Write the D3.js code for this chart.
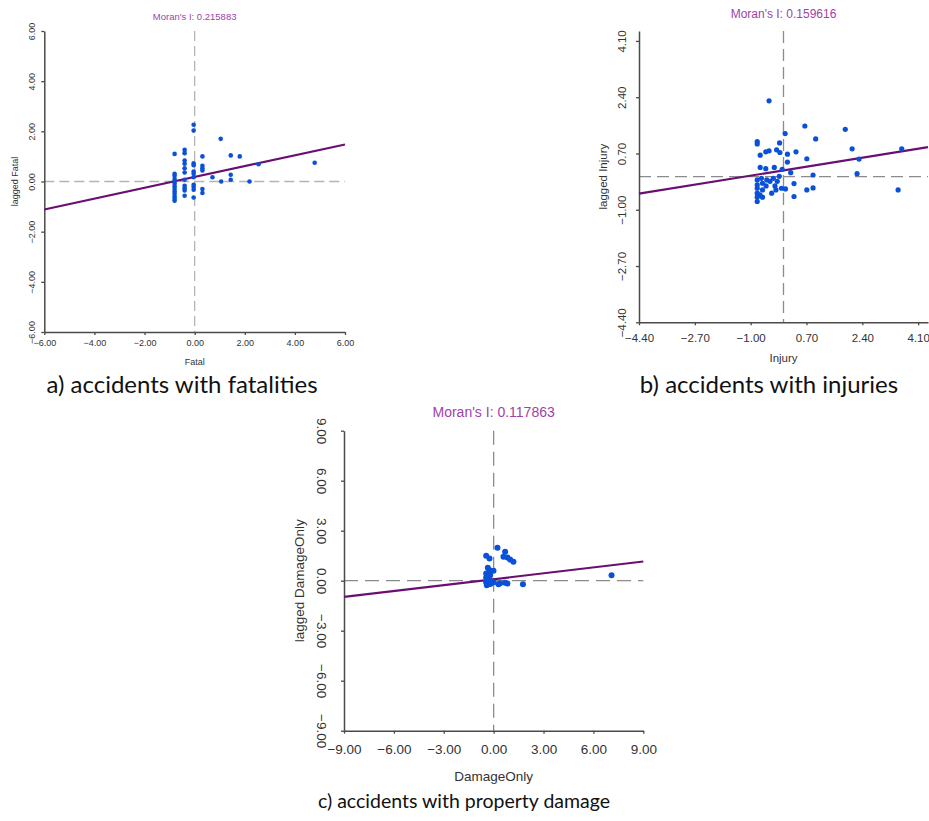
<!DOCTYPE html>
<html>
<head>
<meta charset="utf-8">
<script src="https://cdn.jsdelivr.net/npm/d3@7"></script>
<style>
  body { margin: 0; background: #fff; }
  svg { display: block; font-family: "Liberation Sans", Arial, sans-serif; }
  .caption { font-family: Lato, "Open Sans", sans-serif; fill: #111; }
</style>
</head>
<body>
<svg id="chart" width="929" height="821"></svg>
<script>
'use strict';

// a) fatalities: standardized value vs spatially lagged value
const fatalX = [
  -0.80, -0.80, -0.80, -0.80, -0.80, -0.80, -0.80, -0.80, -0.80, -0.80, -0.80, -0.80, -0.80,
  -0.40, -0.40, -0.40, -0.40, -0.40, -0.40, -0.40, -0.40, -0.40, -0.40, -0.40,
  -0.04, -0.04, -0.04, -0.04, -0.04, -0.04, -0.04, -0.04, -0.04, -0.04, -0.04,
  0.31, 0.31, 0.31, 0.31, 0.31, 0.31,
  0.71, 1.04, 1.06, 1.44, 1.44, 1.44, 1.80, 2.19, 2.55, 4.79
];
const fatalY = [
  1.10, 0.31, 0.23, 0.10, 0.00, -0.09, -0.20, -0.30, -0.40, -0.49, -0.60, -0.69, -0.77,
  1.26, 1.13, 0.84, 0.71, 0.53, 0.36, 0.07, -0.17, -0.27, -0.36, -0.57,
  2.26, 2.03, 0.73, 0.65, 0.40, 0.31, 0.17, -0.13, -0.22, -0.33, -0.64,
  1.00, 0.63, 0.53, 0.44, -0.30, -0.46,
  0.17, 1.70, 0.00, 1.04, 0.27, 0.07, 1.00, 0.00, 0.69, 0.75
];

// b) injuries
const injuryX = [
  -0.44, 0.65, 1.88, 0.05, 0.98, -0.80, -0.80, -0.12, 2.09, -0.21, -0.44, -0.54, -0.11,
  0.38, 0.12, -0.71, 3.60, 0.71, 0.12, 2.30, -0.71, -0.54, -0.28, -0.04, 0.22, 0.90,
  2.24, 3.49, 0.06, 0.32, 0.32, 0.71, 0.90,
  -0.80, -0.80, -0.80, -0.80, -0.80, -0.80, -0.67, -0.64, -0.64, -0.64, -0.51, -0.53,
  -0.41, -0.36, -0.31, -0.26, -0.23, -0.19, -0.13, -0.06, -0.72
];
const injuryY = [
  2.29, 1.53, 1.43, 1.30, 1.14, 1.06, 0.99, 1.02, 0.84, 0.81, 0.78, 0.75, 0.73,
  0.75, 0.68, 0.65, 0.84, 0.54, 0.44, 0.53, 0.28, 0.24, 0.28, 0.22, 0.12, 0.05,
  0.09, -0.40, -0.37, -0.21, -0.60, -0.40, -0.34,
  -0.10, -0.25, -0.35, -0.50, -0.62, -0.75, -0.05, -0.20, -0.40, -0.62, -0.10, -0.28,
  -0.14, -0.50, -0.05, -0.28, -0.40, -0.14, 0.01, -0.35, -0.55
];

// c) property damage only
const damageX = [
  0.23, -0.45, -0.25, 0.69, 0.59, 0.83, 0.99, 1.19, -0.35, -0.25, -0.01, -0.45, -0.21,
  -0.45, -0.25, -0.45, -0.41, -0.20, 0.00, 0.29, 0.39, 0.69, 0.83, 1.76, 7.09
];
const damageY = [
  1.97, 1.49, 1.33, 1.73, 1.43, 1.39, 1.27, 1.13, 0.77, 0.63, 0.59, 0.43, 0.33,
  0.19, 0.07, -0.10, -0.27, -0.20, -0.10, -0.21, -0.15, -0.13, -0.17, -0.21, 0.33
];

const moranI = [0.215883, 0.159616, 0.117863];
const intercepts = [0.18, 0.19, 0.09];
const varNames = ['Fatal', 'Injury', 'DamageOnly'];
const axisMax = [6, 4.4, 9];
const tickValues = [
  [-6, -4, -2, 0, 2, 4, 6],
  [-4.4, -2.7, -1.0, 0.7, 2.4, 4.1],
  [-9, -6, -3, 0, 3, 6, 9]
];
const captions = [
  'a) accidents with fatalities',
  'b) accidents with injuries',
  'c) accidents with property damage'
];

const svg = d3.select('#chart');

const panels = [
  { x: fatalX, y: fatalY, left: 44.3, right: 345, top: 31, bottom: 332,
    font: 9, r: 2.3, dash: '10,5', dashColor: '#b4b4b4',
    titleY: 20, yTickOff: 12, xTickPad: 5, xLabelY: 365, yLabelX: 15, ySign: -1,
    caption: [182, 393], capSize: 24 },
  { x: injuryX, y: injuryY, left: 639, right: 928, top: 31, bottom: 322.3,
    font: 11.5, r: 2.6, dash: '12,6', dashColor: '#8c8c8c',
    titleY: 18, yTickOff: 17, xTickPad: 9, xLabelY: 362, yLabelX: 603, ySign: -1,
    caption: [769, 393], capSize: 24 },
  { x: damageX, y: damageY, left: 344, right: 643.3, top: 430.7, bottom: 730.7,
    font: 13.5, r: 3, dash: '14,7', dashColor: '#8c8c8c',
    titleY: 416.5, yTickOff: 22, xTickPad: 11, xLabelY: 781, yLabelX: 299, ySign: 1,
    caption: [464, 808], capSize: 19.5 }
];

panels.forEach((p, i) => {
  const m = axisMax[i];
  const x = d3.scaleLinear().domain([-m, m]).range([p.left, p.right]);
  const y = d3.scaleLinear().domain([-m, m]).range([p.bottom, p.top]);
  const $g = svg.append('g').attr('class', 'panel-' + i);
  const fmt = d3.format('.2f');

  // reference lines through the origin
  $g.append('line')
    .attr('x1', x(0)).attr('x2', x(0))
    .attr('y1', y(m)).attr('y2', y(-m))
    .attr('stroke', p.dashColor).attr('stroke-width', 1.3)
    .attr('stroke-dasharray', p.dash);
  $g.append('line')
    .attr('x1', x(-m)).attr('x2', x(m))
    .attr('y1', y(0)).attr('y2', y(0))
    .attr('stroke', p.dashColor).attr('stroke-width', 1.3)
    .attr('stroke-dasharray', p.dash);

  // axes
  const $xa = $g.append('g')
    .attr('transform', 'translate(0,' + p.bottom + ')')
    .call(d3.axisBottom(x).tickValues(tickValues[i]).tickFormat(fmt)
      .tickSize(3).tickSizeOuter(0).tickPadding(p.xTickPad));
  const $ya = $g.append('g')
    .attr('transform', 'translate(' + p.left + ',0)')
    .call(d3.axisLeft(y).tickValues(tickValues[i]).tickFormat(fmt)
      .tickSize(3).tickSizeOuter(0));

  [$xa, $ya].forEach(($a) => {
    $a.attr('font-family', null).attr('font-size', null);
    $a.select('.domain').attr('stroke', '#4a4a4a').attr('stroke-width', 1.5);
    $a.selectAll('.tick line').attr('stroke', '#4a4a4a').attr('stroke-width', 1.3);
    $a.selectAll('.tick text')
      .attr('fill', '#333')
      .style('font-size', p.font + 'px');
  });

  $ya.selectAll('.tick text')
    .attr('x', 0).attr('y', 0).attr('dy', '0.35em')
    .attr('text-anchor', 'middle')
    .attr('transform', 'translate(' + (-p.yTickOff) + ',0) rotate(' + (p.ySign * 90) + ')');

  // regression line, slope = Moran's I
  const b = intercepts[i], s = moranI[i];
  $g.append('line')
    .attr('x1', x(-m)).attr('y1', y(b - s * m))
    .attr('x2', x(m)).attr('y2', y(b + s * m))
    .attr('stroke', '#6a0f72').attr('stroke-width', 2.2);

  // points
  $g.append('g').selectAll('circle')
    .data(d3.zip(p.x, p.y))
    .enter()
    .append('circle')
    .attr('cx', (d) => x(d[0]))
    .attr('cy', (d) => y(d[1]))
    .attr('r', p.r)
    .attr('fill', '#0a50d8');

  // texts
  $g.append('text')
    .attr('x', x(0)).attr('y', p.titleY)
    .attr('text-anchor', 'middle')
    .attr('fill', '#a03fa8')
    .style('font-size', (p.font + 0.5) + 'px')
    .text("Moran's I: " + moranI[i]);

  $g.append('text')
    .attr('x', x(0)).attr('y', p.xLabelY)
    .attr('text-anchor', 'middle')
    .attr('fill', '#333')
    .style('font-size', p.font + 'px')
    .text(varNames[i]);

  $g.append('text')
    .attr('transform', 'translate(' + p.yLabelX + ',' + y(0) + ') rotate(-90)')
    .attr('dy', '0.35em')
    .attr('text-anchor', 'middle')
    .attr('fill', '#333')
    .style('font-size', p.font + 'px')
    .text('lagged ' + varNames[i]);

  svg.append('text')
    .attr('class', 'caption')
    .attr('x', p.caption[0]).attr('y', p.caption[1])
    .attr('text-anchor', 'middle')
    .style('font-size', p.capSize + 'px')
    .text(captions[i]);
});
</script>
</body>
</html>
